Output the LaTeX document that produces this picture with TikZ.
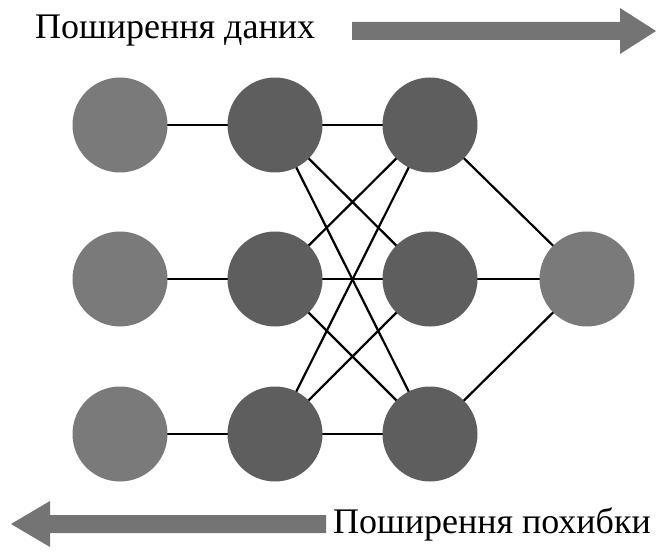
\documentclass[tikz,border=0pt]{standalone}
\usepackage{fontspec}
\setmainfont{Liberation Serif}
\definecolor{lightn}{HTML}{7A7A7A}
\definecolor{darkn}{HTML}{5E5E5E}
\definecolor{arrowc}{HTML}{747474}
\tikzset{
  neuron/.style={circle, minimum size=95pt, inner sep=0pt},
  inn/.style={neuron, fill=lightn},
  hid/.style={neuron, fill=darkn},
  link/.style={line width=2.2pt, black},
  bigarrow/.style={fill=arrowc, draw=none},
  lbl/.style={font=\fontsize{36}{36}\selectfont, inner sep=0pt}
}
\begin{document}
\begin{tikzpicture}[x=1pt,y=-1pt]
\useasboundingbox (0,0) rectangle (661,553);
% edges first
\coordinate (i1) at (120,125);
\coordinate (i2) at (120,279);
\coordinate (i3) at (120,434);
\coordinate (h1) at (275,125);
\coordinate (h2) at (275,279);
\coordinate (h3) at (275,434);
\coordinate (g1) at (430,125);
\coordinate (g2) at (430,279);
\coordinate (g3) at (430,434);
\coordinate (o) at (587,279);
\foreach \k in {1,2,3}{\draw[link] (i\k) -- (h\k);}
\foreach \a in {1,2,3}{\foreach \b in {1,2,3}{\draw[link] (h\a) -- (g\b);}}
\foreach \k in {1,2,3}{\draw[link] (g\k) -- (o);}
% nodes
\node[inn] (I1) at (i1) {};
\node[inn] (I2) at (i2) {};
\node[inn] (I3) at (i3) {};
\node[hid] (H1) at (h1) {};
\node[hid] (H2) at (h2) {};
\node[hid] (H3) at (h3) {};
\node[hid] (G1) at (g1) {};
\node[hid] (G2) at (g2) {};
\node[hid] (G3) at (g3) {};
\node[inn] (O) at (o) {};
% top label and arrow
\node[lbl, anchor=west] (top) at (35,31) {Поширення даних};
\fill[bigarrow] (352,22) -- (620,22) -- (620,8) -- (656,31) -- (620,54) -- (620,40) -- (352,40) -- cycle;
% bottom label and arrow
\node[lbl, anchor=east] (bot) at (651,524) {Поширення похибки};
\fill[bigarrow] (326,515) -- (50,515) -- (50,501) -- (11,524) -- (50,547) -- (50,533) -- (326,533) -- cycle;
\end{tikzpicture}
\end{document}
